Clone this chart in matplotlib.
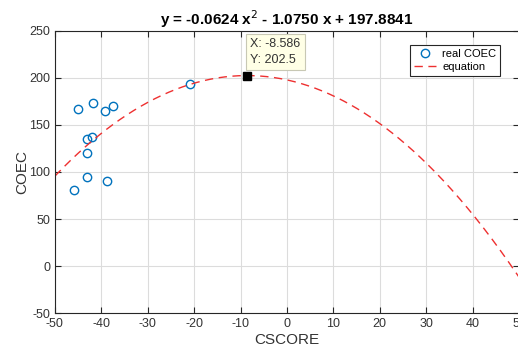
import numpy as np
import matplotlib.pyplot as plt

plt.rcParams['font.family'] = ['Liberation Sans', 'DejaVu Sans']
plt.rcParams['axes.unicode_minus'] = False

# measured points
cscore = [-45.0, -41.9, -39.1, -37.4, -43.1, -42.0, -43.0, -43.0, -38.7, -45.8, -20.8]
coec = [167, 173.4, 165, 170, 134.6, 136.7, 120, 95, 90.5, 80.8, 193.6]

# fitted quadratic (from the title)
coef = [-0.0624, -1.0750, 197.8841]
tip_x, tip_y = -8.586, 202.5

xticks = list(range(-50, 51, 10))
yticks = list(range(-50, 251, 50))

edge = '#262626'
txt = '#333333'
blue = '#0072bd'

fig = plt.figure(figsize=(5.18, 3.51), dpi=100)
ax = fig.add_axes([0.106, 0.108, 0.896, 0.804])

xx = np.linspace(-50, 50, 400)
ax.plot(cscore, coec, 'o', mfc='none', mec=blue, ms=6, mew=1.0, label='real COEC')
ax.plot(xx, np.polyval(coef, xx), '--', color='#ee3030', lw=1.0, dashes=(6, 4), label='equation')

ax.plot([tip_x], [tip_y], 's', color='black', ms=6, zorder=5)
ax.annotate('X: -8.586\nY: 202.5', xy=(tip_x, tip_y), xytext=(tip_x + 0.6, 213),
            fontsize=9, color=txt, ha='left', va='bottom', linespacing=1.4,
            bbox=dict(boxstyle='square,pad=0.35', fc='#ffffe6', ec='#c8c8b4', lw=0.8))

ax.set_xlim(-50, 50)
ax.set_ylim(-50, 250)
ax.set_xticks(xticks)
ax.set_yticks(yticks)
ax.grid(True, color='#dcdcdc', lw=0.8)
ax.set_axisbelow(True)
ax.tick_params(direction='in', length=4, colors=edge, labelsize=9, top=True, right=True,
               labelcolor=txt)
for s in ax.spines.values():
    s.set_color(edge)
    s.set_linewidth(0.8)

ax.set_xlabel('CSCORE', fontsize=11, color=txt, labelpad=2)
ax.set_ylabel('COEC', fontsize=11, color=txt, labelpad=0)
ax.set_title('y = -0.0624 x$^2$ - 1.0750 x + 197.8841', fontsize=11, fontweight='bold', pad=4)

leg = ax.legend(loc='upper right', bbox_to_anchor=(0.972, 0.968), fontsize=8, fancybox=False,
                framealpha=1, edgecolor=edge, handlelength=2.0, handletextpad=0.6,
                borderpad=0.35, labelspacing=0.25)
leg.get_frame().set_linewidth(0.8)

fig.savefig('out.png', dpi=100)
